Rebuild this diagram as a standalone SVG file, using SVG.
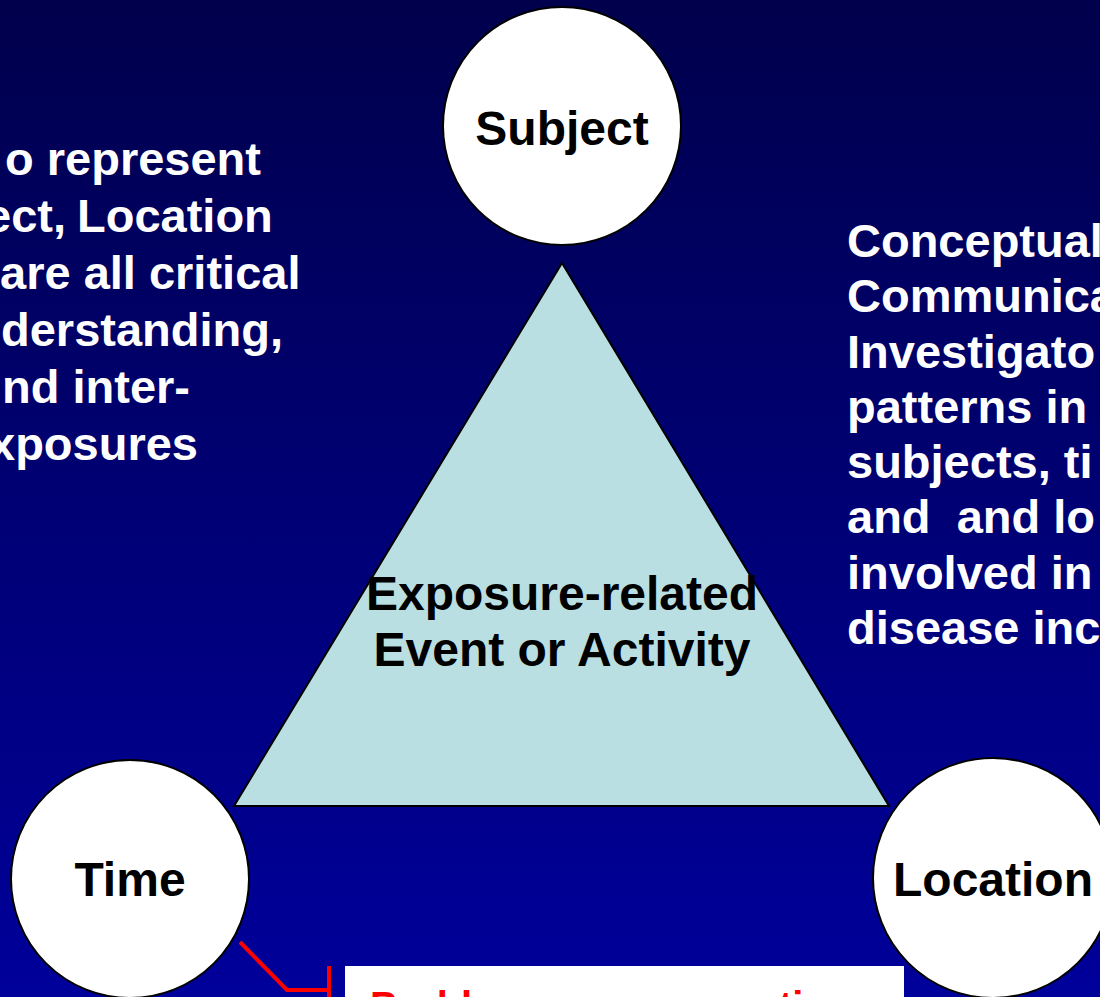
<svg xmlns="http://www.w3.org/2000/svg" width="1100" height="997" viewBox="0 0 1100 997">
<defs>
<linearGradient id="bg" x1="0" y1="0" x2="0" y2="1">
<stop offset="0" stop-color="#00004c"/>
<stop offset="1" stop-color="#00009b"/>
</linearGradient>
</defs>
<style>
.node{fill:#ffffff;stroke:#000000;stroke-width:2}
.lbl{font-family:"Liberation Sans",Arial,sans-serif;font-weight:bold;font-size:48px;fill:#000000;text-anchor:middle}
.side{font-family:"Liberation Sans",Arial,sans-serif;font-weight:bold;font-size:47px;fill:#ffffff}
.red{font-family:"Liberation Sans",Arial,sans-serif;font-weight:bold;font-size:40px;fill:#ff0000}
.conn{fill:none;stroke:#ff0000;stroke-width:4}
</style>
<rect x="0" y="0" width="1100" height="997" fill="url(#bg)"/>

<g id="left-text" class="side">
<text x="5" y="175">o represent</text>
<text y="232"><tspan x="-15">ect,</tspan><tspan x="77">Location</tspan></text>
<text x="0" y="289">are all critical</text>
<text x="1" y="346">derstanding,</text>
<text x="2" y="403">nd inter-</text>
<text x="-11" y="460">xposures</text>
</g>

<g id="right-text" class="side">
<text x="847" y="257">Conceptual</text>
<text x="847" y="312">Communica</text>
<text x="847" y="368">Investigato</text>
<text x="847" y="423">patterns in</text>
<text x="847" y="478">subjects, ti</text>
<text x="847" y="533" xml:space="preserve">and  and lo</text>
<text x="847" y="589">involved in</text>
<text x="847" y="644">disease inc</text>
</g>

<g id="event">
<polygon points="562,263 234,806 889,806" fill="#b9dfe2" stroke="#000000" stroke-width="2"/>
<text class="lbl" x="562" y="610">Exposure-related</text>
<text class="lbl" x="562" y="666">Event or Activity</text>
</g>

<g id="subject">
<circle class="node" cx="562" cy="126" r="119"/>
<text class="lbl" x="562" y="145">Subject</text>
</g>

<g id="time">
<circle class="node" cx="130" cy="879" r="119"/>
<text class="lbl" x="130" y="896">Time</text>
</g>

<g id="location">
<circle class="node" cx="993" cy="878" r="120"/>
<text class="lbl" x="993" y="896">Location</text>
</g>

<g id="connectors">
<polyline class="conn" points="240,942 287,990 329,990"/>
<line class="conn" x1="329" y1="966" x2="329" y2="1000"/>
</g>

<g id="problem-note">
<rect x="345" y="966" width="559" height="60" fill="#ffffff"/>
<text class="red" x="370" y="1020">Problem occurs over time</text>
</g>
</svg>
